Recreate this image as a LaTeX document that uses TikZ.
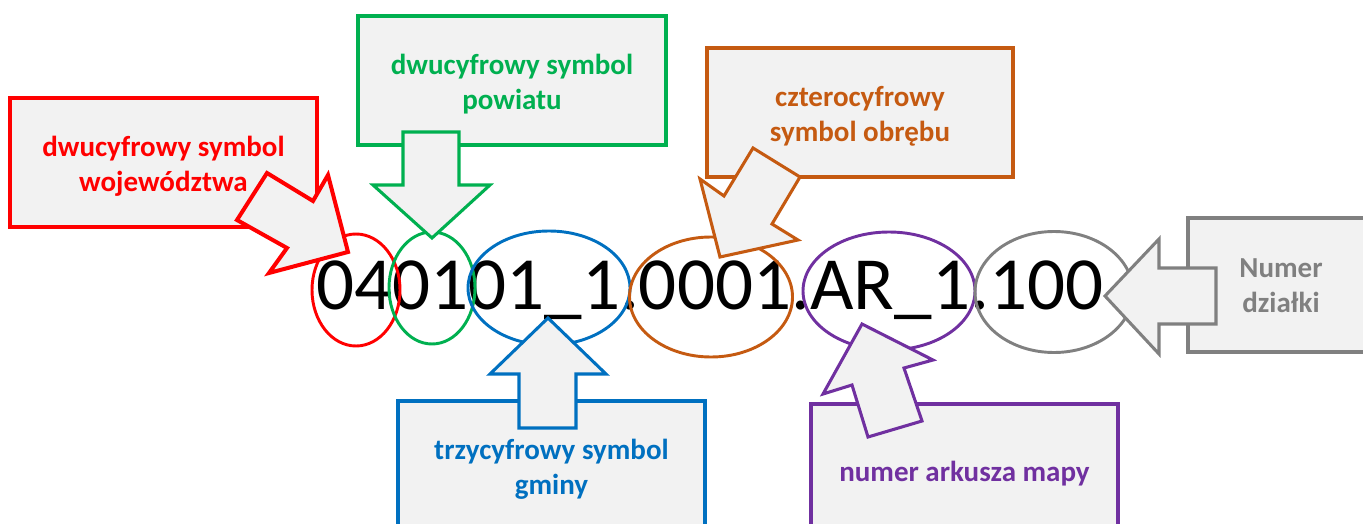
\documentclass[tikz,border=0pt]{standalone}
\usepackage{fontspec}
\setmainfont{Carlito}
\usetikzlibrary{shapes.geometric}
\definecolor{cred}{HTML}{FF0000}
\definecolor{cgreen}{HTML}{00B050}
\definecolor{cblue}{HTML}{0070C0}
\definecolor{corange}{HTML}{C55A11}
\definecolor{cpurple}{HTML}{7030A0}
\definecolor{cgray}{HTML}{808080}
\definecolor{cfill}{HTML}{F2F2F2}
\tikzset{
  lbox/.style={draw=#1, fill=cfill, line width=2.3pt, rectangle, inner sep=0pt},
  lbl/.style={text=#1, inner sep=0pt, align=center, font=\bfseries\fontsize{21.75pt}{26.25pt}\selectfont},
  ring/.style={draw=#1, ellipse, line width=2.2pt, inner sep=0pt},
  barrow/.style={draw=#1, fill=cfill, line width=2.3pt, line join=miter, miter limit=10}
}
\begin{document}
\begin{tikzpicture}[x=0.75pt,y=-0.75pt]
\useasboundingbox (0,0) rectangle (1363,524);
\clip (0,0) rectangle (1363,524);
% code text
\node[anchor=base west, inner sep=0pt, font=\fontsize{56.3pt}{60pt}\selectfont] (code) at (316,309) {040101\_1.0001.AR\_1.100};
% ellipses
\node[ring=cred, minimum width=66pt, minimum height=84pt] (ewoj) at (356,290) {};
\node[ring=cgreen, minimum width=64.5pt, minimum height=84pt] (epow) at (432,288) {};
\node[ring=cblue, minimum width=121.5pt, minimum height=85.5pt] (egm) at (549,288) {};
\node[ring=corange, minimum width=122.25pt, minimum height=90pt] (eobr) at (711,297) {};
\node[ring=cpurple, minimum width=129pt, minimum height=88.5pt] (eark) at (889,291) {};
\node[ring=cgray, minimum width=118.5pt, minimum height=90.75pt] (edz) at (1054,292) {};
% boxes
\node[lbox=cred, line width=3pt, minimum width=230.25pt, minimum height=96.75pt] (bwoj) at (163.5,162.5) {};
\node[lbox=cgreen, minimum width=231pt, minimum height=96.75pt] (bpow) at (512,80.5) {};
\node[lbox=cblue, minimum width=230.25pt, minimum height=96.75pt] (bgm) at (551.5,465.5) {};
\node[lbox=corange, minimum width=229.5pt, minimum height=96.75pt] (bobr) at (860,112.5) {};
\node[lbox=cpurple, minimum width=230.25pt, minimum height=96.75pt] (bark) at (964.5,468.5) {};
\node[lbox=cgray, minimum width=139.5pt, minimum height=100.5pt] (bdz) at (1281,285) {};
% labels
\node[lbl=cred] (twoj) at ([yshift=-2.8pt]bwoj.center) {dwucyfrowy symbol\\województwa};
\node[lbl=cgreen] (tpow) at ([yshift=-2.8pt]bpow.center) {dwucyfrowy symbol\\powiatu};
\node[lbl=cblue] (tgm) at ([yshift=-2.5pt]bgm.center) {trzycyfrowy symbol\\gminy};
\node[lbl=corange] (tobr) at ([yshift=-2.8pt]bobr.center) {czterocyfrowy\\symbol obrębu};
\node[lbl=cpurple] (tark) at ([yshift=-3.5pt]bark.center) {numer arkusza mapy};
\node[lbl=cgray] (tdz) at ([yshift=-0.8pt]bdz.center) {Numer\\działki};
% block arrows
\draw[barrow=cred, line width=3pt] (237,220) -- (267,173) -- (313,201) -- (328,175) -- (348,252) -- (269,273) -- (287,248) -- cycle;
\draw[barrow=cgreen] (403,132) -- (459,132) -- (459,185) -- (490,185) -- (432,238) -- (373,185) -- (403,185) -- cycle;
\draw[barrow=cblue] (519,428) -- (576,428) -- (576,374) -- (606,374) -- (548,318) -- (490,374) -- (519,374) -- cycle;
\draw[barrow=corange] (800,177) -- (753,148) -- (724,196) -- (700,179) -- (720,257) -- (798,240) -- (772,224) -- cycle;
\draw[barrow=cpurple] (862,324) -- (933,360) -- (904,368) -- (922,421) -- (868,437) -- (852,385) -- (823,394) -- cycle;
\draw[barrow=cgray] (1216,268) -- (1159,268) -- (1159,239) -- (1105,296) -- (1159,354) -- (1159,324) -- (1216,324) -- cycle;
\end{tikzpicture}
\end{document}
